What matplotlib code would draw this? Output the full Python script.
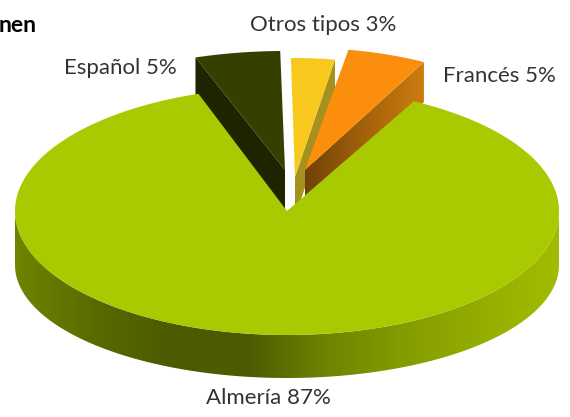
import matplotlib.pyplot as plt
import numpy as np
from matplotlib.colors import LinearSegmentedColormap
from matplotlib.patches import Polygon

# order runs clockwise from the left edge of the notch
categories = ['Español', 'Otros tipos', 'Francés', 'Almería']
values = [5, 3, 5, 87]
title_visible = 'nen'

start = 109
depth_small = 40
depth_big = 43
depth_side = 54

# apex x, apex y, radius x, radius y
geom = {
    'Español': (285, 170, 275, 119),
    'Otros tipos': (295, 177, 235, 119),
    'Francés': (305, 170, 255, 122),
    'Almería': (287, 211, 272, 124),
}
top_col = {'Español': '#334000', 'Otros tipos': '#f8c81e', 'Francés': '#fb8e0c', 'Almería': '#a9ca00'}

fig = plt.figure(figsize=(5.7, 4.17), dpi=100)
ax = fig.add_axes([0, 0, 1, 1])


def gradient(poly, stops):
    cmap = LinearSegmentedColormap.from_list('g', stops)
    patch = Polygon(poly, closed=True, fc='none', ec='none')
    ax.add_patch(patch)
    x0, x1 = poly[:, 0].min(), poly[:, 0].max()
    y0, y1 = poly[:, 1].min(), poly[:, 1].max()
    im = ax.imshow(np.linspace(0, 1, 256)[None, :], cmap=cmap, extent=[x0, x1, y1, y0], aspect='auto', zorder=patch.get_zorder())
    im.set_clip_path(patch)


def arc(name, a0, a1):
    cx, cy, rx, ry = geom[name]
    t = np.radians(np.linspace(a0, a1, 200))
    return np.column_stack([cx + rx*np.cos(t), cy - ry*np.sin(t)])


# angle of every slice from the values
angles = {}
a = start
for c, v in zip(categories, values):
    angles[c] = (a, a - v*3.6)
    a -= v*3.6

# cut faces of the pulled out slices
p = arc('Español', *angles['Español'])[0]
cx, cy = geom['Español'][:2]
ax.fill([p[0], cx, cx, p[0]], [p[1], cy, cy + depth_small, p[1] + depth_small], color='#1c2400', lw=0)

p = arc('Otros tipos', *angles['Otros tipos'])[-1]
cx, cy = geom['Otros tipos'][:2]
ax.fill([p[0], cx, cx, p[0]], [p[1], cy, cy + depth_small, p[1] + depth_small], color='#a6901f', lw=0)

p = arc('Francés', *angles['Francés'])[-1]
cx, cy = geom['Francés'][:2]
gradient(np.array([[p[0], p[1]], [cx, cy], [cx, cy + depth_small], [p[0], p[1] + depth_small]]),
         ['#6f4206', '#a4620a', '#cc7c10'])

for c in categories[:3]:
    pts = arc(c, *angles[c])
    cx, cy = geom[c][:2]
    ax.fill(np.r_[cx, pts[:, 0]], np.r_[cy, pts[:, 1]], color=top_col[c], lw=0)

# side wall of the big slice, a bit taller at the sides than at the front
low = arc('Almería', 180, 360)
t = np.radians(np.linspace(180, 360, 200))
cx, cy, rx, ry = geom['Almería']
base = np.column_stack([cx + rx*np.cos(t), cy + depth_side - (ry + depth_big - depth_side)*np.sin(t)])
wall = np.vstack([low, base[::-1]])
gradient(wall, ['#6f8400', '#5a6a00', '#4d5a00', '#4d5a00', '#6f8300', '#859c00', '#94ad00', '#a2bc00'])

pts = arc('Almería', *angles['Almería'])
ax.fill(np.r_[cx, pts[:, 0]], np.r_[cy, pts[:, 1]], color=top_col['Almería'], lw=0)

font = ['Lato', 'DejaVu Sans']
ax.text(37, 25, title_visible, ha='right', va='center', fontsize=16.5, fontweight='bold', family=font, color='black')
for c, v, x, y, ha in zip(categories, values, [177, 396, 443, 268], [68, 25, 76, 398], ['right', 'right', 'left', 'center']):
    ax.text(x, y, '%s %d%%' % (c, v), ha=ha, va='center', fontsize=16, family=font, color='#333333')

ax.set_xlim(0, 570)
ax.set_ylim(417, 0)
ax.axis('off')

plt.savefig('out.png', dpi=100)
